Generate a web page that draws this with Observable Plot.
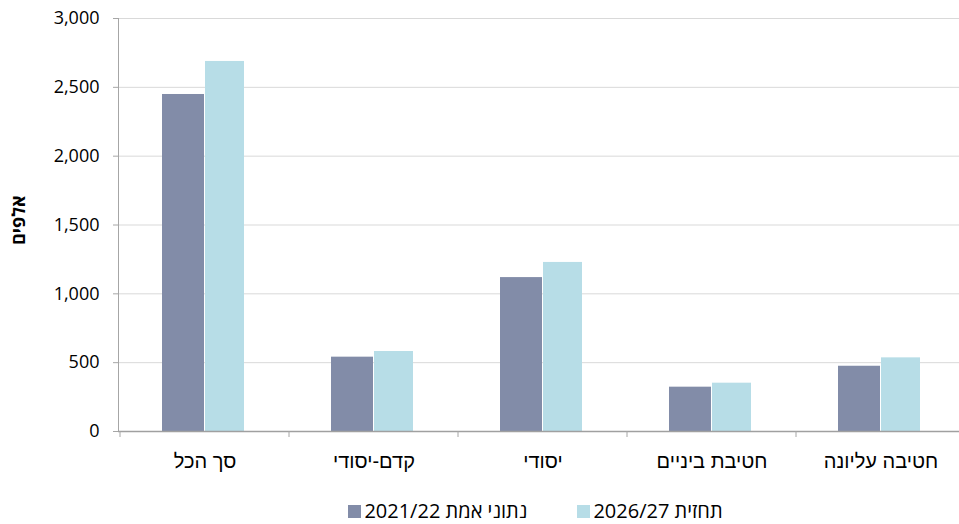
<!DOCTYPE html>
<html><head><meta charset="utf-8">
<script src="https://cdn.jsdelivr.net/npm/d3@7"></script>
<script src="https://cdn.jsdelivr.net/npm/@observablehq/plot@0.6"></script>
<style>
body{margin:0;background:#fff;font-family:"Open Sans",sans-serif;position:relative;width:959px;height:524px;overflow:hidden;}
#legend{position:absolute;left:0;top:500px;width:959px;box-sizing:border-box;display:flex;justify-content:center;align-items:center;height:22px;line-height:22px;font-size:20px;color:#000;padding-left:112px;}
.item{display:flex;align-items:center;margin:0 25px;line-height:22px;height:22px;}
.item span{line-height:22px;}
.sw{width:13px;height:13px;margin-right:3px;display:inline-block;}
</style>
</head><body>
<div id="chart"></div>
<div id="legend"></div>
<script>
const categories = ["סך הכל", "קדם-יסודי", "יסודי", "חטיבת ביניים", "חטיבה עליונה"];
const actual2021 = [2448, 540, 1118, 322, 474];
const forecast2026 = [2688, 581, 1228, 351, 535];
const seriesLabels = ["נתוני אמת 2021/22", "תחזית 2026/27"];
const seriesColors = ["#828ca8", "#b7dde7"];
const yTicks = [0, 500, 1000, 1500, 2000, 2500, 3000];
const yLabel = "אלפים";

const data = categories.map((c, i) => ({cat: c, a: actual2021[i], f: forecast2026[i]}));

const chart = Plot.plot({
  width: 959,
  height: 480,
  marginLeft: 118,
  marginRight: 0,
  marginTop: 18,
  marginBottom: 49,
  style: {fontFamily: "'Open Sans', sans-serif", color: "#000", background: "#fff"},
  x: {domain: categories, range: [118, 967], padding: 0},
  y: {domain: [0, 3000]},
  marks: [
    Plot.gridY(yTicks, {stroke: "#d9d9d9", strokeOpacity: 1}),
    Plot.barY(data, {x: "cat", y: "a", fill: seriesColors[0], insetLeft: 42, insetRight: 85}),
    Plot.barY(data, {x: "cat", y: "f", fill: seriesColors[1], insetLeft: 85, insetRight: 45}),
    Plot.frame({anchor: "left", stroke: "#a6a6a6"}),
    Plot.ruleY([0], {stroke: "#a0a0a0", strokeWidth: 1.3}),
    Plot.axisY(yTicks, {tickSize: 5, tickPadding: 14, tickFormat: d3.format(","), fontSize: 18, stroke: "#a6a6a6", fill: "#000", label: null}),
    Plot.axisX({tickSize: 6, dx: -85, tickFormat: () => "", stroke: "#a6a6a6", label: null}),
    Plot.axisX({tickSize: 0, tickPadding: 22, fontSize: 20, fill: "#000", label: null, fontFamily: "'Liberation Sans Narrow', 'Liberation Sans', sans-serif"}),
    Plot.text([yLabel], {frameAnchor: "left", dx: -99, dy: 20, rotate: -90, fontWeight: "bold", fontSize: 18, fill: "#000"})
  ]
});
document.getElementById("chart").appendChild(chart);

const legend = document.getElementById("legend");
seriesLabels.forEach((s, i) => {
  const it = document.createElement("div");
  it.className = "item";
  it.innerHTML = `<span class="sw" style="background:${seriesColors[i]}"></span><span>${s}</span>`;
  legend.appendChild(it);
});
</script>
</body></html>
